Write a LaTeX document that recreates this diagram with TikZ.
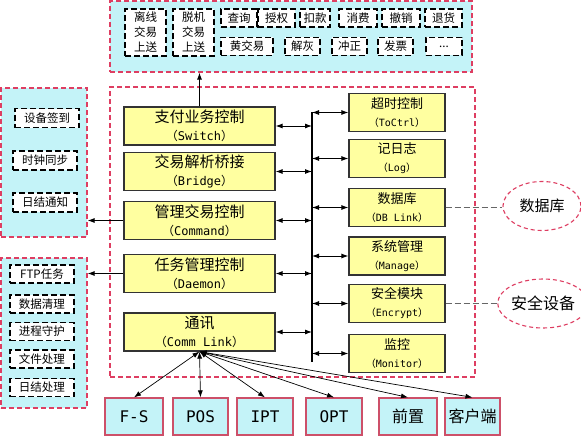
\documentclass[tikz,border=0pt]{standalone}
\usepackage{fontspec}
\setmainfont{Noto Sans CJK SC}
\newfontfamily\monof{DejaVu Sans Mono}
\usetikzlibrary{shapes.geometric,arrows.meta,positioning}
\definecolor{dashred}{RGB}{222,62,98}
\definecolor{boxcyan}{RGB}{196,243,248}
\definecolor{boxyellow}{RGB}{255,255,160}
\definecolor{extred}{RGB}{205,80,105}
\newcommand{\eng}[1]{（{\monof #1}）}

\begin{document}
\begin{tikzpicture}[x=1pt,y=-1pt,>={Latex[length=7pt,width=5pt]},
			outer node/.style={rectangle, draw=dashred, line width=1.2pt, dash pattern=on 5pt off 3pt, fill=boxcyan, inner sep=0pt},
			task node/.style={rectangle, draw=black, line width=1.1pt, dash pattern=on 6pt off 3pt, fill=white, text=black, align=center, inner sep=0pt, minimum height=18pt, font=\fontsize{11.5}{15}\selectfont},
			main node/.style={rectangle, draw=black!80, line width=1.2pt, fill=boxyellow, align=center, inner sep=0pt, minimum width=151pt, minimum height=38pt, font=\fontsize{15}{18}\selectfont},
			side node/.style={rectangle, draw=black!80, line width=1.2pt, fill=boxyellow, align=center, inner sep=0pt, minimum width=96pt, minimum height=38pt, font=\fontsize{13}{18}\selectfont},
			ext node/.style={rectangle, draw=extred, line width=1.2pt, fill=boxcyan, align=center, inner sep=0pt, minimum height=37pt, font=\fontsize{16}{18}\selectfont},
			cloud node/.style={ellipse, draw=dashred, line width=1.1pt, dash pattern=on 4pt off 3pt, fill=white, inner sep=0pt, minimum width=78pt, minimum height=49pt}]
			\useasboundingbox (0,0) rectangle (581,436);
			
			% outer frames
			\node[outer node, minimum width=362pt, minimum height=71pt] (top) at (291,36.5) {};
			\node[outer node, minimum width=86pt, minimum height=149pt] (left1) at (44,162.5) {};
			\node[outer node, minimum width=86pt, minimum height=150pt] (left2) at (44,333) {};
			\node[rectangle, draw=dashred, line width=1.2pt, dash pattern=on 5pt off 3pt, minimum width=365pt, minimum height=290pt] (core) at (292.5,232) {};
			
			% transaction types
			\node[task node, minimum width=41pt, minimum height=47pt] (t1) at (145.5,32.5) {离线\\交易\\上送};
			\node[task node, minimum width=41pt, minimum height=47pt] (t2) at (193.5,32.5) {脱机\\交易\\上送};
			\node[task node, minimum width=36pt] (t3) at (239,18) {查询};
			\node[task node, minimum width=37pt] (t4) at (276.5,18) {授权};
			\node[task node, minimum width=30pt] (t5) at (315,18) {扣款};
			\node[task node, minimum width=38pt] (t6) at (358,18) {消费};
			\node[task node, minimum width=38pt] (t7) at (401,18) {撤销};
			\node[task node, minimum width=37pt] (t8) at (443.5,18) {退货};
			\node[task node, minimum width=52pt] (t9) at (247,46.5) {黄交易};
			\node[task node, minimum width=35pt] (t10) at (302.5,46.5) {解灰};
			\node[task node, minimum width=35pt] (t11) at (349.5,46.5) {冲正};
			\node[task node, minimum width=35pt] (t12) at (395.5,46.5) {发票};
			\node[task node, minimum width=36pt] (t13) at (444,46.5) {...};
			
			% management tasks
			\node[task node, minimum width=64pt, minimum height=19pt] (m1) at (47,118) {设备签到};
			\node[task node, minimum width=64pt, minimum height=19pt] (m2) at (45,160.5) {时钟同步};
			\node[task node, minimum width=64pt, minimum height=19pt] (m3) at (45,202.5) {日结通知};
			
			% daemon tasks
			\node[task node, minimum width=64pt] (d1) at (42,274) {FTP任务};
			\node[task node, minimum width=64pt] (d2) at (42,304) {数据清理};
			\node[task node, minimum width=64pt] (d3) at (42,331.5) {进程守护};
			\node[task node, minimum width=64pt] (d4) at (42,359) {文件处理};
			\node[task node, minimum width=64pt] (d5) at (42,387.5) {日结处理};
			
			% core modules
			\node[main node] (sw) at (199.5,126) {支付业务控制\\{\fontsize{12}{14}\selectfont\eng{Switch}}};
			\node[main node] (br) at (199.5,171.5) {交易解析桥接\\{\fontsize{12}{14}\selectfont\eng{Bridge}}};
			\node[main node] (cmd) at (199.5,220.5) {管理交易控制\\{\fontsize{12}{14}\selectfont\eng{Command}}};
			\node[main node] (dm) at (199.5,273.5) {任务管理控制\\{\fontsize{12}{14}\selectfont\eng{Daemon}}};
			\node[main node] (cl) at (199.5,332) {通讯\\{\fontsize{12}{14}\selectfont\eng{Comm Link}}};
			
			\node[side node] (to) at (397,112.5) {超时控制\\{\fontsize{10}{13}\selectfont\eng{ToCtrl}}};
			\node[side node] (log) at (397,158.5) {记日志\\{\fontsize{10}{13}\selectfont\eng{Log}}};
			\node[side node] (db) at (397,207.5) {数据库\\{\fontsize{10}{13}\selectfont\eng{DB Link}}};
			\node[side node] (mg) at (397,256) {系统管理\\{\fontsize{10}{13}\selectfont\eng{Manage}}};
			\node[side node] (enc) at (397,303.5) {安全模块\\{\fontsize{10}{13}\selectfont\eng{Encrypt}}};
			\node[side node] (mon) at (397,353.5) {监控\\{\fontsize{10}{13}\selectfont\eng{Monitor}}};
			
			% external devices
			\node[cloud node, font=\fontsize{15}{18}\selectfont] (dbe) at (542,206) {数据库};
			\node[cloud node, minimum width=80pt, font=\fontsize{16}{18}\selectfont] (sec) at (543,303.5) {安全设备};
			
			\node[ext node, minimum width=58pt] (fs) at (134,416.5) {\monof F-S};
			\node[ext node, minimum width=55pt] (pos) at (200.5,416.5) {\monof POS};
			\node[ext node, minimum width=56pt] (ipt) at (265,416.5) {\monof IPT};
			\node[ext node, minimum width=56pt] (opt) at (334,416.5) {\monof OPT};
			\node[ext node, minimum width=58pt] (fe) at (408,416.5) {前置};
			\node[ext node, minimum width=55pt] (cli) at (472.5,416.5) {客户端};
			
			% bus
			\coordinate (bus) at (312,112);
			\coordinate (busend) at (312,362);
			\draw[line width=2.8pt] (bus) -- (busend);
			
			\path[every edge/.style={draw, line width=0.9pt, black}]
			(sw) edge[<->] (sw -| bus)
			(br) edge[<->] (br -| bus)
			(cmd) edge[<->] (cmd -| bus)
			(dm) edge[<->] (dm -| bus)
			(cl) edge[<->] (cl -| bus)
			(to) edge[<->] (to -| bus)
			(log) edge[<->] (log -| bus)
			(db) edge[<->] (db -| bus)
			(mg) edge[<->] (mg -| bus)
			(enc) edge[<->] (enc -| bus)
			(mon) edge[<->] (mon -| bus)
			(sw.north) edge[->] (sw.north |- top.south)
			(cmd.west) edge[->] (cmd.west -| left1.east)
			(dm.west) edge[->] (dm.west -| left2.east);
			
			\path[every edge/.style={draw, line width=0.7pt, black}]
			(cl.south) edge[<->] (fs.north)
			(cl.south) edge[<->] (pos.north)
			(cl.south) edge[<->] (ipt.north)
			(cl.south) edge[<->] (opt.north)
			(cl.south) edge[<->] (fe.north)
			(cl.south) edge[<->] (cli.north);
			
			\path[every edge/.style={draw, line width=1.2pt, black!60, dash pattern=on 6pt off 3pt}]
			(db.east) edge (db.east -| dbe.west)
			(enc.east) edge (enc.east -| sec.west);
			
		\end{tikzpicture}
\end{document}
